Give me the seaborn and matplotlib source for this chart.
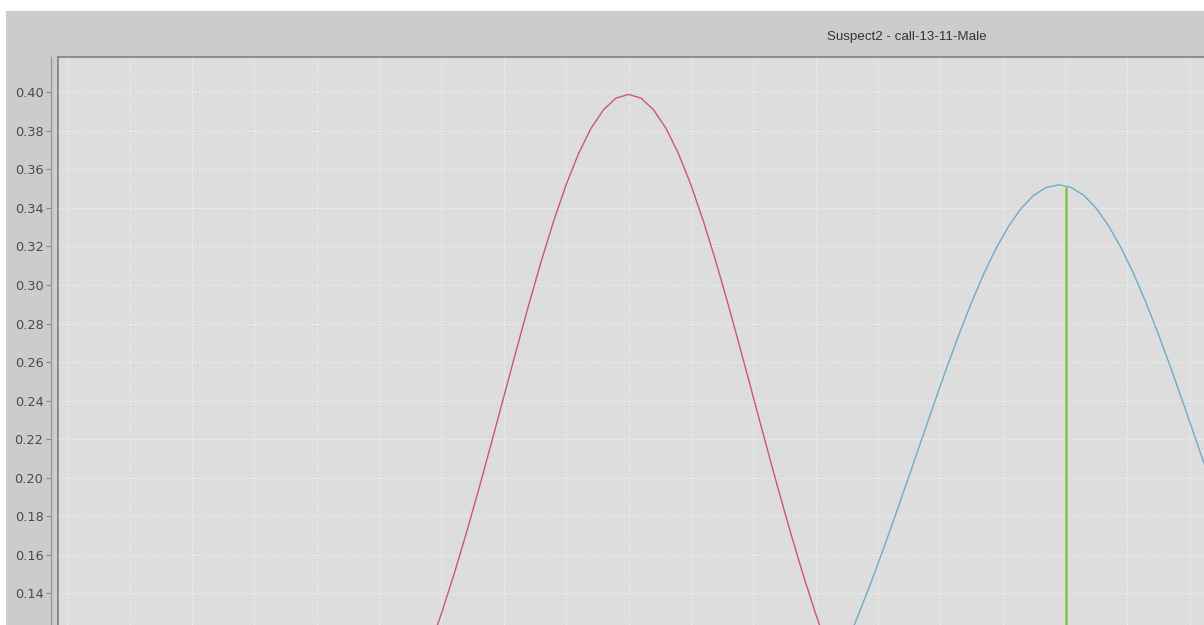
import pandas as pd
import seaborn as sns
import matplotlib.pyplot as plt
from matplotlib.patches import Rectangle

# values
title = "Suspect2 - call-13-11-Male"

red_x = [-1.8, -1.7, -1.6, -1.5, -1.4, -1.3, -1.2, -1.1, -1.0, -0.9, -0.8, -0.7,
         -0.6, -0.5, -0.4, -0.3, -0.2, -0.1, 0.0, 0.1, 0.2, 0.3, 0.4, 0.5,
         0.6, 0.7, 0.8, 0.9, 1.0, 1.1, 1.2, 1.3, 1.4, 1.5, 1.6, 1.7, 1.8]
red_y = [0.0790, 0.0940, 0.1109, 0.1295, 0.1497, 0.1714, 0.1942, 0.2179, 0.2420,
         0.2661, 0.2897, 0.3123, 0.3332, 0.3521, 0.3683, 0.3814, 0.3910, 0.3970,
         0.3989, 0.3970, 0.3910, 0.3814, 0.3683, 0.3521, 0.3332, 0.3123, 0.2897,
         0.2661, 0.2420, 0.2179, 0.1942, 0.1714, 0.1497, 0.1295, 0.1109, 0.0940,
         0.0790]

blue_x = [1.55, 1.65, 1.75, 1.85, 1.95, 2.05, 2.15, 2.25, 2.35, 2.45, 2.55, 2.65,
          2.75, 2.85, 2.95, 3.05, 3.15, 3.25, 3.35, 3.45, 3.55, 3.65, 3.75, 3.85,
          3.95, 4.05, 4.15, 4.25, 4.35, 4.45, 4.55, 4.65, 4.75, 4.85]
blue_y = [0.0863, 0.0997, 0.1142, 0.1299, 0.1465, 0.1641, 0.1823, 0.2009, 0.2197,
          0.2384, 0.2567, 0.2743, 0.2908, 0.3060, 0.3193, 0.3307, 0.3399, 0.3466,
          0.3506, 0.3520, 0.3506, 0.3466, 0.3399, 0.3307, 0.3193, 0.3060, 0.2908,
          0.2743, 0.2567, 0.2384, 0.2197, 0.2009, 0.1823, 0.1641]

marker_x = 3.51
marker_top = 0.351

y_ticks = [0.14, 0.16, 0.18, 0.20, 0.22, 0.24, 0.26, 0.28, 0.30, 0.32, 0.34, 0.36, 0.38, 0.40]

df = pd.concat([
    pd.DataFrame({"x": red_x, "y": red_y, "serie": "a"}),
    pd.DataFrame({"x": blue_x, "y": blue_y, "serie": "b"}),
])

# figure: 1204 x 625 px, gray panel with a thin white strip top/left
fig = plt.figure(figsize=(12.04, 6.25), dpi=100, facecolor="white")
fig.add_artist(Rectangle((6 / 1204, 0), 1 - 6 / 1204, 1 - 11 / 625,
                         transform=fig.transFigure, facecolor="#cccccc",
                         edgecolor="none", zorder=0))

ax = fig.add_axes([58 / 1204, 0, 1 - 58 / 1204, 1 - 57 / 625])
ax.set_facecolor("#dddddd")

sns.lineplot(data=df, x="x", y="y", hue="serie", palette=["#c9577a", "#6eaccb"],
             linewidth=1.0, legend=False, sort=False, ax=ax, zorder=3)
for ln in ax.lines:
    ln.set_solid_joinstyle("round")
ax.vlines(marker_x, 0, marker_top, color="#7dc243", linewidth=1.8, zorder=4)

ax.set_xlim(-4.575, 4.615)
ax.set_ylim(0.12355, 0.41832)

# grid
ax.set_xticks([i * 0.5 for i in range(-9, 10)])
ax.set_yticks(y_ticks)
ax.grid(True, color="white", linewidth=0.6, linestyle=(0, (2, 2)), alpha=0.6)
ax.set_axisbelow(True)

# axis + ticks
ax.tick_params(axis="x", bottom=False, labelbottom=False)
ax.tick_params(axis="y", length=3.5, width=0.8, color="#888888", pad=2,
               labelsize=9.3, labelcolor="#4a4a4a")
ax.set_yticklabels([f"{v:.2f}" for v in y_ticks])
ax.set_xlabel("")
ax.set_ylabel("")

for s in ["right", "bottom"]:
    ax.spines[s].set_visible(False)
ax.spines["left"].set_position(("outward", 5))
ax.spines["left"].set_color("#999999")
ax.spines["left"].set_linewidth(1.0)
ax.spines["top"].set_color("#808080")
ax.spines["top"].set_linewidth(1.2)
# plot border on the left side
ax.plot([0, 0], [0, 1], transform=ax.transAxes, color="#808080",
        linewidth=1.2, clip_on=False, zorder=5)

fig.text(907 / 1204, 1 - 37 / 625, title, ha="center", va="center",
         fontsize=9.6, color="#333333", family="Liberation Sans")

fig.savefig("out.png", dpi=100, facecolor=fig.get_facecolor())
